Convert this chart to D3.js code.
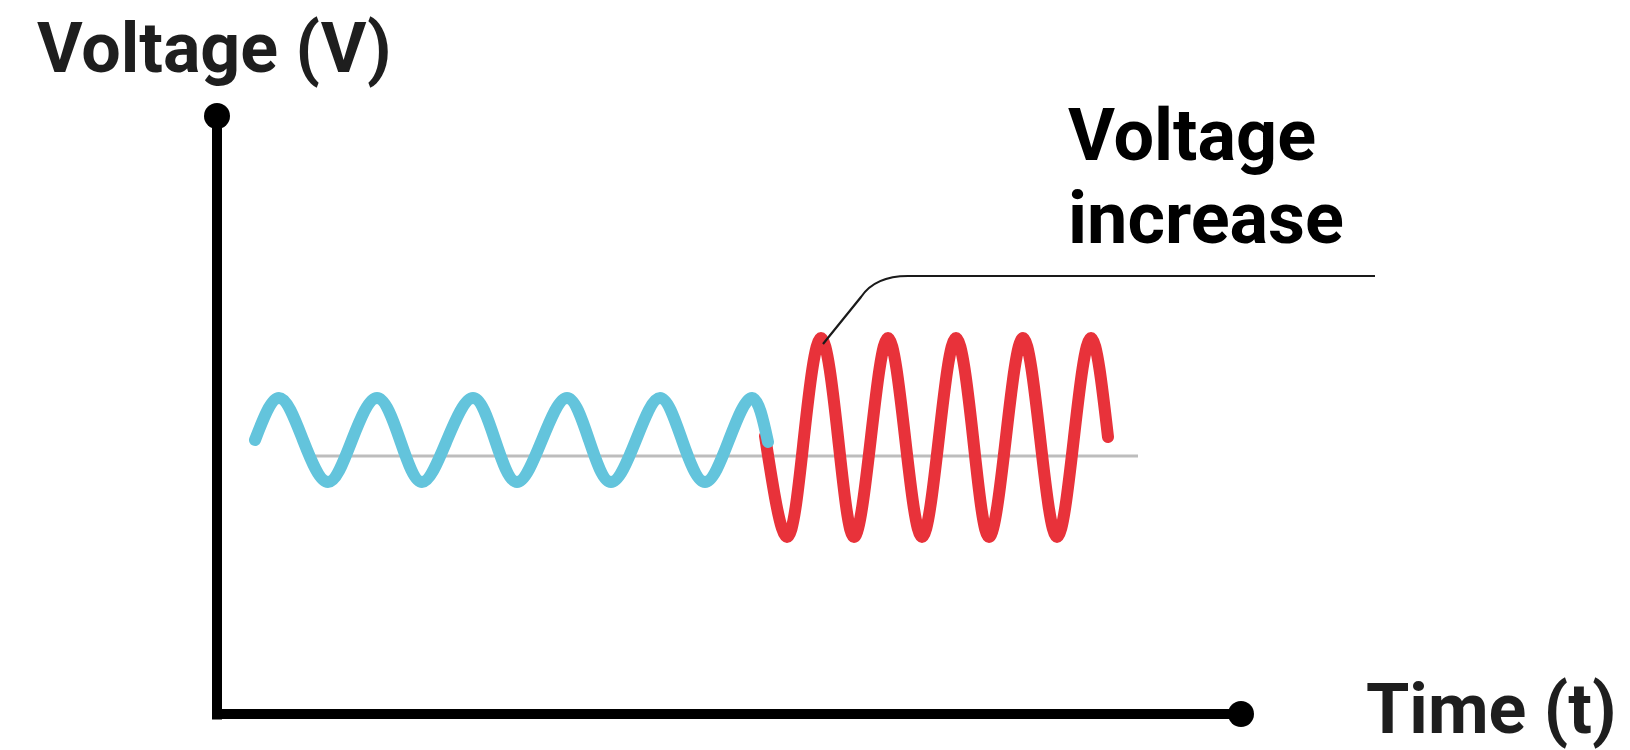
<!DOCTYPE html>
<html lang="en">
<head>
  <meta charset="utf-8">
  <title>Voltage increase</title>
  <script src="https://d3js.org/d3.v7.min.js"></script>
  <style>
    body { margin: 0; background: #fff; }
    svg text { font-family: Roboto, "Noto Sans", sans-serif; font-weight: 700; }
  </style>
</head>
<body>
<script>

  // Blue wave (normal voltage): time / voltage at crossings, peaks and troughs
  var blueTime = [3.8, 6.2, 8.6, 11.1, 13.5, 16.0, 18.3, 20.5, 23.0, 25.6, 27.8, 30.0, 32.5, 35.0, 37.2, 39.4, 41.9, 44.3, 46.5, 48.8, 51.2, 53.5, 55.1];
  var blueVolt = [1.6, 5.8, 1.6, -2.6, 1.6, 5.8, 1.6, -2.6, 1.6, 5.8, 1.6, -2.6, 1.6, 5.8, 1.6, -2.6, 1.6, 5.8, 1.6, -2.6, 1.6, 5.8, 1.4];

  // Red wave (voltage increase)
  var redTime = [54.8, 57.0, 58.7, 60.4, 62.1, 63.7, 65.4, 67.1, 68.8, 70.5, 72.2, 73.9, 75.6, 77.2, 78.9, 80.6, 82.3, 84.0, 85.7, 87.4, 89.1];
  var redVolt = [2.0, -8.1, 1.9, 11.8, 1.9, -8.1, 1.9, 11.8, 1.9, -8.1, 1.9, 11.8, 1.9, -8.1, 1.9, 11.8, 1.9, -8.1, 1.9, 11.8, 1.9];

  // zero reference line
  var zeroLine = [9.7, 92.1];

  var labels = {y: "Voltage (V)", x: "Time (t)", note: ["Voltage", "increase"]};

  var width = 1630, height = 750;
  var margin = {left: 217, bottom: 36, top: 116};

  var svg = d3.select("body").append("svg")
      .attr("width", width)
      .attr("height", height);

  var xScale = d3.scaleLinear().domain([0, 102.4]).range([margin.left, 1241]);
  var yScale = d3.scaleLinear().domain([-25.8, 34]).range([height - margin.bottom, margin.top]);

  var line = d3.line()
      .x(function(d) { return xScale(d[0]); })
      .y(function(d) { return yScale(d[1]); })
      .curve(d3.curveNatural);

  // gray zero line
  svg.append("line")
      .attr("x1", xScale(zeroLine[0]))
      .attr("x2", xScale(zeroLine[1]))
      .attr("y1", yScale(0))
      .attr("y2", yScale(0))
      .style("stroke", "#bdbdbd")
      .style("stroke-width", 3);

  var redData = d3.zip(redTime, redVolt);
  var blueData = d3.zip(blueTime, blueVolt);

  svg.append("path")
      .datum(redData)
      .attr("d", line)
      .style("fill", "none")
      .style("stroke", "#e8323a")
      .style("stroke-width", 12)
      .style("stroke-linecap", "round")
      .style("stroke-linejoin", "round");

  svg.append("path")
      .datum(blueData)
      .attr("d", line)
      .style("fill", "none")
      .style("stroke", "#63c4dc")
      .style("stroke-width", 12)
      .style("stroke-linecap", "round")
      .style("stroke-linejoin", "round");

  // axes, no ticks
  var xAxis = d3.axisBottom(xScale).tickValues([]).tickSizeOuter(0);
  var yAxis = d3.axisLeft(yScale).tickValues([]).tickSizeOuter(0);

  svg.append("g")
      .attr("class", "axis")
      .attr("transform", "translate(0," + (yScale.range()[0] - 0.5) + ")")
      .call(xAxis);

  svg.append("g")
      .attr("class", "axis")
      .attr("transform", "translate(" + (xScale.range()[0] - 0.5) + ",0)")
      .call(yAxis);

  svg.selectAll(".axis .domain")
      .style("stroke", "#000")
      .style("stroke-width", 10)
      .style("stroke-linecap", "square");

  // end dots
  svg.append("circle")
      .attr("cx", xScale.range()[0])
      .attr("cy", yScale.range()[1])
      .attr("r", 13)
      .style("fill", "#000");

  svg.append("circle")
      .attr("cx", xScale.range()[1])
      .attr("cy", yScale.range()[0])
      .attr("r", 13)
      .style("fill", "#000");

  // axis titles
  svg.append("text")
      .attr("x", 37)
      .attr("y", 72)
      .style("font-size", "70px")
      .style("fill", "#1e1e1e")
      .text(labels.y);

  svg.append("text")
      .attr("x", 1366)
      .attr("y", 733)
      .style("font-size", "70px")
      .style("fill", "#1e1e1e")
      .text(labels.x);

  // annotation
  var note = svg.append("text")
      .attr("x", 1068)
      .attr("y", 160)
      .style("font-size", "72px")
      .style("fill", "#000");
  note.append("tspan").attr("x", 1068).attr("y", 160).text(labels.note[0]);
  note.append("tspan").attr("x", 1068).attr("y", 243).text(labels.note[1]);

  // leader line from the first red peak
  var px = xScale(redTime[3]) + 2, py = yScale(redVolt[3]) + 6;
  var lineY = 276;
  svg.append("path")
      .attr("d", "M" + px + "," + py +
                 "L" + (px + 38) + "," + (lineY + 21) +
                 "Q" + (px + 52) + "," + lineY + " " + (px + 85) + "," + lineY +
                 "H1375")
      .style("fill", "none")
      .style("stroke", "#1a1a1a")
      .style("stroke-width", 2.2);

</script>
</body>
</html>
